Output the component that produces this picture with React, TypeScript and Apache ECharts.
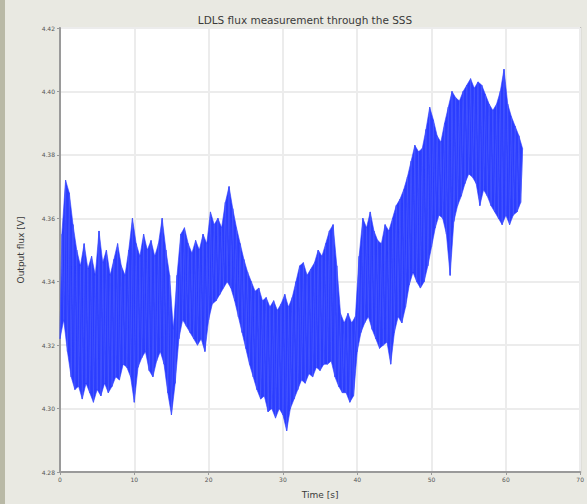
import React, { useEffect, useRef } from "react";
import * as echarts from "echarts";

const titleText = "LDLS flux measurement through the SSS";
const xName = "Time [s]";
const yName = "Output flux [V]";

// time stamps of each half-second bin (s)
const times = [
  0.0, 0.5, 1.0, 1.5, 2.0, 2.5, 3.0, 3.5, 4.0, 4.5, 5.0, 5.5, 6.0, 6.5, 7.0, 7.5, 8.0, 8.5, 9.0, 9.5,
  10.0, 10.5, 11.0, 11.5, 12.0, 12.5, 13.0, 13.5, 14.0, 14.5, 15.0, 15.5, 16.0, 16.5, 17.0, 17.5, 18.0, 18.5, 19.0, 19.5,
  20.0, 20.5, 21.0, 21.5, 22.0, 22.5, 23.0, 23.5, 24.0, 24.5, 25.0, 25.5, 26.0, 26.5, 27.0, 27.5, 28.0, 28.5, 29.0, 29.5,
  30.0, 30.5, 31.0, 31.5, 32.0, 32.5, 33.0, 33.5, 34.0, 34.5, 35.0, 35.5, 36.0, 36.5, 37.0, 37.5, 38.0, 38.5, 39.0, 39.5,
  40.0, 40.5, 41.0, 41.5, 42.0, 42.5, 43.0, 43.5, 44.0, 44.5, 45.0, 45.5, 46.0, 46.5, 47.0, 47.5, 48.0, 48.5, 49.0, 49.5,
  50.0, 50.5, 51.0, 51.5, 52.0, 52.5, 53.0, 53.5, 54.0, 54.5, 55.0, 55.5, 56.0, 56.5, 57.0, 57.5, 58.0, 58.5, 59.0, 59.5,
  60.0, 60.5, 61.0, 61.5, 62.0,
];

// upper excursions of the signal in each bin (V)
const highs = [
  4.355, 4.372, 4.368, 4.358, 4.350, 4.345, 4.352, 4.344, 4.348, 4.342, 4.356, 4.346, 4.350, 4.342, 4.347, 4.352, 4.345, 4.342, 4.350, 4.360,
  4.352, 4.348, 4.355, 4.350, 4.353, 4.348, 4.352, 4.360, 4.350, 4.342, 4.325, 4.342, 4.355, 4.357, 4.352, 4.349, 4.353, 4.350, 4.355, 4.352,
  4.362, 4.358, 4.360, 4.357, 4.365, 4.370, 4.363, 4.357, 4.352, 4.347, 4.343, 4.340, 4.337, 4.338, 4.334, 4.335, 4.332, 4.334, 4.331, 4.333,
  4.336, 4.332, 4.335, 4.340, 4.345, 4.346, 4.342, 4.344, 4.346, 4.350, 4.348, 4.352, 4.356, 4.358, 4.345, 4.330, 4.327, 4.330, 4.327, 4.329,
  4.348, 4.360, 4.357, 4.362, 4.356, 4.353, 4.352, 4.358, 4.356, 4.360, 4.364, 4.366, 4.369, 4.373, 4.378, 4.383, 4.381, 4.382, 4.388, 4.395,
  4.391, 4.386, 4.384, 4.390, 4.395, 4.400, 4.398, 4.397, 4.400, 4.402, 4.404, 4.401, 4.403, 4.402, 4.399, 4.396, 4.394, 4.396, 4.400, 4.407,
  4.396, 4.392, 4.389, 4.386, 4.382,
];

// lower excursions of the signal in each bin (V)
const lows = [
  4.322, 4.328, 4.318, 4.310, 4.306, 4.307, 4.303, 4.308, 4.305, 4.302, 4.306, 4.304, 4.308, 4.305, 4.307, 4.310, 4.309, 4.314, 4.313, 4.310,
  4.302, 4.313, 4.316, 4.318, 4.312, 4.310, 4.315, 4.318, 4.314, 4.305, 4.298, 4.308, 4.322, 4.328, 4.326, 4.324, 4.322, 4.320, 4.322, 4.318,
  4.328, 4.333, 4.334, 4.336, 4.338, 4.340, 4.338, 4.334, 4.329, 4.324, 4.319, 4.314, 4.310, 4.306, 4.303, 4.304, 4.299, 4.300, 4.297, 4.300,
  4.298, 4.293, 4.300, 4.303, 4.306, 4.309, 4.308, 4.311, 4.310, 4.313, 4.312, 4.314, 4.314, 4.315, 4.310, 4.307, 4.305, 4.305, 4.302, 4.304,
  4.318, 4.324, 4.327, 4.329, 4.325, 4.322, 4.319, 4.320, 4.321, 4.314, 4.324, 4.329, 4.327, 4.332, 4.339, 4.343, 4.340, 4.338, 4.340, 4.345,
  4.351, 4.357, 4.361, 4.360, 4.355, 4.342, 4.359, 4.364, 4.367, 4.371, 4.374, 4.373, 4.371, 4.364, 4.369, 4.367, 4.364, 4.362, 4.360, 4.358,
  4.361, 4.358, 4.361, 4.362, 4.365,
];

const yTicks = [4.28, 4.30, 4.32, 4.34, 4.36, 4.38, 4.40, 4.42];
const xTicks = [0, 10, 20, 30, 40, 50, 60, 70];

const FONT = "DejaVu Sans";
const BLUE = "#2b3dff";

export default function App() {
  const ref = useRef<HTMLDivElement>(null);

  useEffect(() => {
    if (!ref.current) return;
    const chart = echarts.init(ref.current, null, { renderer: "svg" });

    // zigzag between low and high excursions within each bin
    const signal: [number, number][] = [];
    times.forEach((t, i) => {
      signal.push([t, lows[i]]);
      signal.push([t + 0.25, highs[i]]);
    });

    // dense band between consecutive bins
    const band: number[][] = [];
    for (let i = 0; i < times.length - 1; i++) {
      band.push([times[i], lows[i], highs[i], times[i + 1], lows[i + 1], highs[i + 1]]);
    }

    chart.setOption({
      animation: false,
      backgroundColor: "#e9e9e2",
      graphic: [
        {
          type: "rect",
          left: 0,
          top: 0,
          shape: { width: 5, height: 504 },
          style: { fill: "#b9b9a6" },
          z: 10,
        },
      ],
      title: {
        text: titleText,
        left: 300,
        top: 9,
        textAlign: "center",
        textStyle: { fontFamily: FONT, fontSize: 10.5, fontWeight: "normal", color: "#3a3a3a" },
      },
      grid: {
        left: 60,
        top: 28,
        width: 532,
        height: 450,
        show: true,
        backgroundColor: "#ffffff",
        borderColor: "#b0b0b0",
        borderWidth: 2,
      },
      xAxis: {
        type: "value",
        min: xTicks[0],
        max: xTicks[xTicks.length - 1],
        interval: 10,
        name: xName,
        nameLocation: "middle",
        nameGap: 18,
        nameTextStyle: { fontFamily: FONT, fontSize: 9, color: "#3a3a3a" },
        axisLine: { show: true, lineStyle: { color: "#9a9a9a", width: 2 } },
        axisTick: { show: true, length: 3, lineStyle: { color: "#9a9a9a" } },
        axisLabel: { fontFamily: FONT, fontSize: 6, color: "#555", margin: 4 },
        splitLine: { show: true, lineStyle: { color: "#ececec", width: 2 } },
      },
      yAxis: {
        type: "value",
        min: yTicks[0],
        max: yTicks[yTicks.length - 1],
        interval: 0.02,
        name: yName,
        nameLocation: "middle",
        nameGap: 35,
        nameTextStyle: { fontFamily: FONT, fontSize: 9, color: "#3a3a3a" },
        axisLine: { show: true, lineStyle: { color: "#9a9a9a", width: 2 } },
        axisTick: { show: true, length: 3, lineStyle: { color: "#9a9a9a" } },
        axisLabel: {
          fontFamily: FONT,
          fontSize: 6,
          color: "#555",
          margin: 5,
          formatter: (v: number) => v.toFixed(2),
        },
        splitLine: { show: true, lineStyle: { color: "#ececec", width: 2 } },
      },
      series: [
        {
          type: "custom",
          data: band,
          silent: true,
          encode: { x: [0, 3], y: [1, 2, 4, 5] },
          renderItem: (_params: any, api: any) => {
            const t0 = api.value(0);
            const lo0 = api.value(1);
            const hi0 = api.value(2);
            const t1 = api.value(3);
            const lo1 = api.value(4);
            const hi1 = api.value(5);
            const pts = [
              api.coord([t0 + 0.25, hi0]),
              api.coord([t1 + 0.25, hi1]),
              api.coord([t1, lo1]),
              api.coord([t0, lo0]),
            ];
            return {
              type: "polygon",
              shape: { points: pts },
              style: { fill: BLUE, stroke: BLUE, lineWidth: 0.6 },
            };
          },
        },
        {
          type: "line",
          data: signal,
          showSymbol: false,
          symbol: "none",
          lineStyle: { color: "#4a5aff", width: 1, opacity: 0.6 },
          silent: true,
        },
      ],
    });

    return () => chart.dispose();
  }, []);

  return (
    <div
      ref={ref}
      style={{ position: "absolute", left: 0, top: 0, width: 587, height: 504 }}
    />
  );
}
